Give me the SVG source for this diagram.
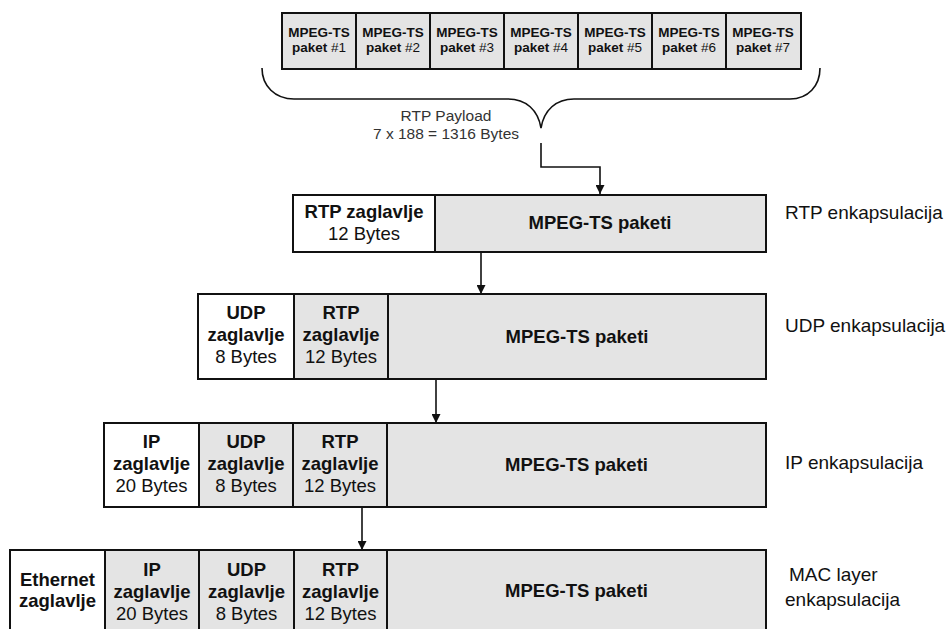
<svg xmlns="http://www.w3.org/2000/svg" width="948" height="629" viewBox="0 0 948 629">
<defs>
<marker id="ah" viewBox="0 0 10 10" refX="10" refY="5" markerWidth="9" markerHeight="9" markerUnits="userSpaceOnUse" orient="auto">
<path d="M0,0 L10,5 L0,10 z" fill="#111"/>
</marker>
<style>
.g{fill:#e4e4e4;stroke:#111;stroke-width:2}
.w{fill:#fff;stroke:#111;stroke-width:2}
text{font-family:"Liberation Sans",Arial,sans-serif;fill:#111;text-anchor:middle}
.s{font-size:13.5px;font-weight:bold}
.n{font-weight:normal}
.b{font-size:18.5px;font-weight:bold}
.r{font-size:18.5px}
.lab{font-size:19px;text-anchor:start}
.pl{font-size:15.5px;fill:#333}
.c{fill:none;stroke:#111;stroke-width:1.6}
</style>
</defs>
<rect width="948" height="629" fill="#fff"/>

<g id="ts-packets">
<rect class="g" x="282" y="13" width="74" height="56"/>
<rect class="g" x="356" y="13" width="74" height="56"/>
<rect class="g" x="430" y="13" width="74" height="56"/>
<rect class="g" x="504" y="13" width="74" height="56"/>
<rect class="g" x="578" y="13" width="74" height="56"/>
<rect class="g" x="652" y="13" width="74" height="56"/>
<rect class="g" x="726" y="13" width="75" height="56"/>
<text class="s" x="319" y="37">MPEG-TS</text><text class="s" x="319" y="52">paket <tspan class="n">#1</tspan></text>
<text class="s" x="393" y="37">MPEG-TS</text><text class="s" x="393" y="52">paket <tspan class="n">#2</tspan></text>
<text class="s" x="467" y="37">MPEG-TS</text><text class="s" x="467" y="52">paket <tspan class="n">#3</tspan></text>
<text class="s" x="541" y="37">MPEG-TS</text><text class="s" x="541" y="52">paket <tspan class="n">#4</tspan></text>
<text class="s" x="615" y="37">MPEG-TS</text><text class="s" x="615" y="52">paket <tspan class="n">#5</tspan></text>
<text class="s" x="689" y="37">MPEG-TS</text><text class="s" x="689" y="52">paket <tspan class="n">#6</tspan></text>
<text class="s" x="763" y="37">MPEG-TS</text><text class="s" x="763" y="52">paket <tspan class="n">#7</tspan></text>
</g>

<g id="payload-brace">
<path class="c" d="M262,68 C262,86 275,99 294,99 L508,99 C526,99 538,110 541,128 C544,110 556,99 574,99 L790,99 C808,99 820,86 820,68"/>
<text class="pl" x="446" y="121">RTP Payload</text>
<text class="pl" x="446" y="139">7 x 188 = 1316 Bytes</text>
</g>

<g id="connectors">
<path class="c" d="M541,143 V167 H600 V194" marker-end="url(#ah)"/>
<path class="c" d="M481,253 V294" marker-end="url(#ah)"/>
<path class="c" d="M436,380 V423" marker-end="url(#ah)"/>
<path class="c" d="M362,508 V550" marker-end="url(#ah)"/>
</g>

<g id="rtp-row">
<rect class="w" x="293" y="195" width="142" height="57"/>
<rect class="g" x="435" y="195" width="331" height="57"/>
<text class="b" x="364" y="218">RTP zaglavlje</text>
<text class="r" x="364" y="240">12 Bytes</text>
<text class="b" x="600" y="229">MPEG-TS paketi</text>
<text class="lab" x="785" y="219">RTP enkapsulacija</text>
</g>

<g id="udp-row">
<rect class="w" x="198" y="294" width="96" height="85"/>
<rect class="g" x="294" y="294" width="94" height="85"/>
<rect class="g" x="388" y="294" width="378" height="85"/>
<text class="b" x="246" y="319">UDP</text>
<text class="b" x="246" y="341">zaglavlje</text>
<text class="r" x="246" y="363">8 Bytes</text>
<text class="b" x="341" y="319">RTP</text>
<text class="b" x="341" y="341">zaglavlje</text>
<text class="r" x="341" y="363">12 Bytes</text>
<text class="b" x="577" y="343">MPEG-TS paketi</text>
<text class="lab" x="785" y="332">UDP enkapsulacija</text>
</g>

<g id="ip-row">
<rect class="w" x="104" y="423" width="95" height="84"/>
<rect class="g" x="199" y="423" width="94" height="84"/>
<rect class="g" x="293" y="423" width="94" height="84"/>
<rect class="g" x="387" y="423" width="379" height="84"/>
<text class="b" x="151.5" y="448">IP</text>
<text class="b" x="151.5" y="470">zaglavlje</text>
<text class="r" x="151.5" y="492">20 Bytes</text>
<text class="b" x="246" y="448">UDP</text>
<text class="b" x="246" y="470">zaglavlje</text>
<text class="r" x="246" y="492">8 Bytes</text>
<text class="b" x="340" y="448">RTP</text>
<text class="b" x="340" y="470">zaglavlje</text>
<text class="r" x="340" y="492">12 Bytes</text>
<text class="b" x="576.5" y="471">MPEG-TS paketi</text>
<text class="lab" x="785" y="469">IP enkapsulacija</text>
</g>

<g id="mac-row">
<rect class="w" x="10" y="550" width="95" height="90"/>
<rect class="g" x="105" y="550" width="94" height="90"/>
<rect class="g" x="199" y="550" width="95" height="90"/>
<rect class="g" x="294" y="550" width="93" height="90"/>
<rect class="g" x="387" y="550" width="379" height="90"/>
<text class="b" x="57.5" y="586">Ethernet</text>
<text class="b" x="57.5" y="607">zaglavlje</text>
<text class="b" x="152" y="576">IP</text>
<text class="b" x="152" y="598">zaglavlje</text>
<text class="r" x="152" y="620">20 Bytes</text>
<text class="b" x="246.5" y="576">UDP</text>
<text class="b" x="246.5" y="598">zaglavlje</text>
<text class="r" x="246.5" y="620">8 Bytes</text>
<text class="b" x="340.5" y="576">RTP</text>
<text class="b" x="340.5" y="598">zaglavlje</text>
<text class="r" x="340.5" y="620">12 Bytes</text>
<text class="b" x="576.5" y="597">MPEG-TS paketi</text>
<text class="lab" x="789" y="581">MAC layer</text>
<text class="lab" x="785" y="606">enkapsulacija</text>
</g>
</svg>
